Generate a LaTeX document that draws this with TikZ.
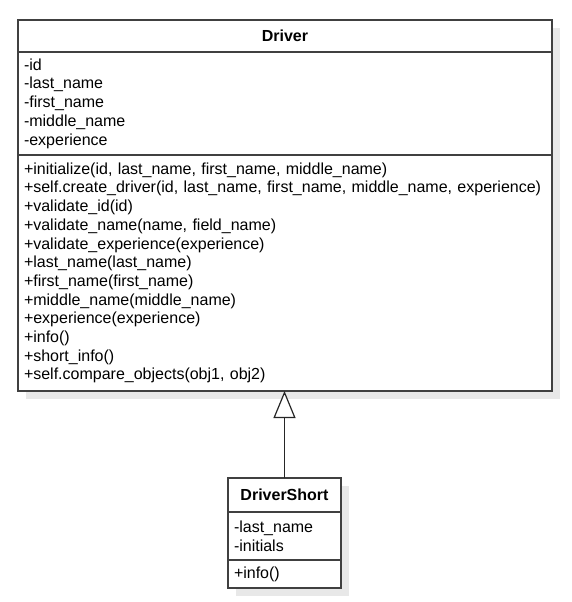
\documentclass[tikz,border=0pt]{standalone}
\usepackage{fontspec}
\setmainfont{Liberation Sans}
\usetikzlibrary{arrows.meta,positioning}

\begin{document}
\begin{tikzpicture}[
  x=1pt, y=1pt,
  font=\fontsize{16}{18.7}\selectfont,
  line width=1.2pt,
  umlhead/.style={draw=black!75, fill=white, font=\fontsize{16}{18.7}\selectfont\bfseries,
    anchor=north west, inner sep=0pt, outer sep=0pt},
  umlpart/.style={draw=black!75, fill=white, align=left, anchor=north west,
    inner xsep=6pt, inner ysep=0pt, outer sep=0pt},
  shade/.style={fill=black!9},
  inherit/.style={draw=black!85, -{Triangle[open, length=27pt, width=22pt, fill=white]}}
]
\useasboundingbox (0,0) rectangle (572,-602);

% ---------- Driver ----------
\fill[shade] (26,-28) rectangle (560,-399);
\node[umlhead, minimum width=534, minimum height=32] (drv) at (18,-20) {Driver};
\node[umlpart, text width=522, minimum height=103] (drvattr) at (drv.south west)
  {-id\\
   -last\_name\\
   -first\_name\\
   -middle\_name\\
   -experience};
\node[umlpart, text width=522, minimum height=236] (drvops) at (drvattr.south west)
  {+initialize(id, last\_name, first\_name, middle\_name)\\
   +self.create\_driver(id, last\_name, first\_name, middle\_name, experience)\\
   +validate\_id(id)\\
   +validate\_name(name, field\_name)\\
   +validate\_experience(experience)\\
   +last\_name(last\_name)\\
   +first\_name(first\_name)\\
   +middle\_name(middle\_name)\\
   +experience(experience)\\
   +info()\\
   +short\_info()\\
   +self.compare\_objects(obj1, obj2)};

% ---------- DriverShort ----------
\fill[shade] (236,-486) rectangle (349,-596);
\node[umlhead, minimum width=113, minimum height=34] (short) at (228,-478) {DriverShort};
\node[umlpart, text width=101, minimum height=48] (shortattr) at (short.south west)
  {-last\_name\\
   -initials};
\node[umlpart, text width=101, minimum height=28] (shortops) at (shortattr.south west)
  {+info()};

% ---------- Generalization ----------
\draw[inherit] (short.north) -- (short.north |- drvops.south);
\end{tikzpicture}
\end{document}
